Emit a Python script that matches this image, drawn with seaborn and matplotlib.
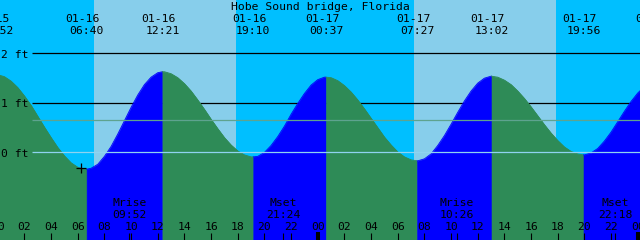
import numpy as np
import matplotlib
matplotlib.use("Agg")
import matplotlib.pyplot as plt
import seaborn as sns

# ---------------- data ----------------
station = "Hobe Sound bridge, Florida"

# half-hours since 01-16 00:00 and tide height (ft)
hours = [i * 0.5 for i in range(99)]
tide_ft = [1.57, 1.53, 1.44, 1.31, 1.14, 0.95, 0.73, 0.51, 0.30, 0.10,
           -0.07, -0.21, -0.30, -0.34, -0.32, -0.24, -0.08, 0.12, 0.37, 0.64,
           0.91, 1.16, 1.37, 1.52, 1.61, 1.63, 1.59, 1.51, 1.39, 1.24,
           1.06, 0.87, 0.67, 0.48, 0.30, 0.15, 0.03, -0.05, -0.09, -0.08,
           0.00, 0.14, 0.32, 0.53, 0.77, 0.99, 1.19, 1.36, 1.47, 1.52,
           1.51, 1.45, 1.35, 1.22, 1.06, 0.88, 0.69, 0.50, 0.31, 0.15,
           0.01, -0.09, -0.15, -0.17, -0.13, -0.03, 0.14, 0.34, 0.57, 0.81,
           1.04, 1.24, 1.40, 1.50, 1.54, 1.52, 1.46, 1.37, 1.24, 1.09,
           0.92, 0.74, 0.56, 0.39, 0.24, 0.11, 0.02, -0.03, -0.05, -0.01,
           0.08, 0.23, 0.41, 0.62, 0.83, 1.03, 1.20, 1.33, 1.41]

# high / low tides
extreme_times = [-0.133, 6.667, 12.35, 19.167, 24.617, 31.45, 37.033, 43.933, 49.4]
extreme_heights = [1.57, -0.34, 1.63, -0.09, 1.52, -0.17, 1.54, -0.05, 1.43]
extreme_dates = ["01-15", "01-16", "01-16", "01-16", "01-17", "01-17", "01-17", "01-17", "01-18"]
extreme_clock = ["23:52", "06:40", "12:21", "19:10", "00:37", "07:27", "13:02", "19:56", "01:24"]

# sun (day = light background)
sunrise = [7.22, 31.24]
sunset = [17.87, 41.87]

# moon
moon_times = [9.867, 21.4, 34.433, 46.3]
moon_names = ["Mrise", "Mset", "Mrise", "Mset"]
moon_clock = ["09:52", "21:24", "10:26", "22:18"]

# reference levels
level_values = [2, 1, 0]
level_labels = ["2 ft", "1 ft", "0 ft"]
mean_level = 0.655

hour_ticks = list(range(0, 50, 2))
hour_labels = [f"{h % 24:02d}" for h in hour_ticks]
midnights = [24, 48]
mark_time = [6.245]
mark_height = [-0.31]

# ---------------- styling ----------------
DAY = "#87CEEB"
NIGHT = "#00BFFF"
RISE = "#0000FF"
FALL = "#2E8B57"
DATUM = "#8FD3F0"
MEAN = "#5E A38F".replace(" ", "")
FONT = dict(fontfamily="DejaVu Sans Mono", fontsize=8.2, color="black")

W, H = 640, 240
T0 = 0.17
PX_PER_H = W / 48.0
Y0 = 152.4
PX_PER_FT = 49.5


def fy(ypx):
    return (Y0 - ypx) / PX_PER_FT


def dx(px):
    return px / PX_PER_H


fig = plt.figure(figsize=(6.4, 2.4), dpi=100)
ax = fig.add_axes([0, 0, 1, 1])
ax.set_xlim(T0, T0 + 48)
ax.set_ylim(fy(H), fy(0))
ax.axis("off")

# background night / day
ax.axvspan(T0 - 2, T0 + 50, color=NIGHT, lw=0, zorder=0)
for r, s in zip(sunrise, sunset):
    ax.axvspan(r, s, color=DAY, lw=0, zorder=0.5)

# black level lines (behind the water)
for v in level_values[:2]:
    ax.hlines(v, T0 + dx(32), T0 + 49, colors="black", lw=0.9, zorder=1)

# tide fill, rising blue / falling green
t_all = np.array(hours + extreme_times, dtype=float)
h_all = np.array(tide_ft + extreme_heights, dtype=float)
order = np.argsort(t_all, kind="stable")
t_all, h_all = t_all[order], h_all[order]
bottom = fy(H) - 1
for i in range(len(extreme_times) - 1):
    a, b = extreme_times[i], extreme_times[i + 1]
    m = (t_all >= a) & (t_all <= b)
    col = RISE if extreme_heights[i + 1] > extreme_heights[i] else FALL
    ax.fill_between(t_all[m], h_all[m], bottom, color=col, lw=0.4,
                    edgecolor=col, zorder=2)
    sns.lineplot(x=t_all[m], y=h_all[m], color=col, lw=0.6, ax=ax,
                 zorder=2, sort=False, estimator=None)

# datum and mean lines (on top of water)
ax.hlines(0, T0 + dx(32), T0 + 49, colors=DATUM, lw=0.9, zorder=3)
ax.hlines(mean_level, T0 + dx(32), T0 + 49, colors=MEAN, lw=0.9, zorder=3)

# level labels
for v, lab in zip(level_values, level_labels):
    ax.text(T0 + dx(1.5), v - 4.5 / PX_PER_FT, lab, ha="left", va="baseline",
            zorder=6, **FONT)

# title
ax.text(T0 + dx(320), fy(10), station, ha="center", va="baseline", zorder=6, **FONT)

# tide extreme labels
for t, d, c in zip(extreme_times, extreme_dates, extreme_clock):
    ax.text(t - dx(3.8), fy(21.7), d, ha="center", va="baseline", zorder=6, **FONT)
    ax.text(t, fy(34.3), c, ha="center", va="baseline", zorder=6, **FONT)

# moon labels
for t, n, c in zip(moon_times, moon_names, moon_clock):
    ax.text(t, fy(206), n, ha="center", va="baseline", zorder=6, **FONT)
    ax.text(t, fy(218.3), c, ha="center", va="baseline", zorder=6, **FONT)

# hour labels and ticks
for t, lab in zip(hour_ticks, hour_labels):
    ax.text(t, fy(230), lab, ha="center", va="baseline", zorder=6, **FONT)
ax.vlines(hour_ticks, fy(H + 1), fy(232.7), colors="black", lw=0.8, zorder=6)
ax.vlines(moon_times, fy(H + 1), fy(232.7), colors="black", lw=0.8, zorder=6)
ax.vlines(midnights, fy(H + 1), fy(231.7), colors="black", lw=2.9, zorder=6)

# marker
sns.scatterplot(x=mark_time, y=mark_height, marker="+", s=45, color="black",
                linewidth=0.9, ax=ax, zorder=7)

fig.savefig("out.png", dpi=100)
